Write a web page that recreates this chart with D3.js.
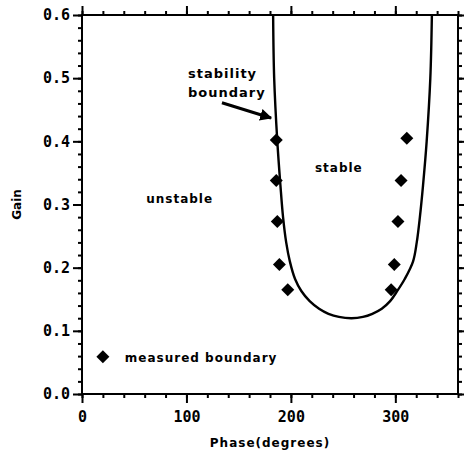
<!DOCTYPE html>
<html><head><meta charset="utf-8">
<script src="https://cdn.jsdelivr.net/npm/d3@7"></script>
<style>
html,body{margin:0;padding:0;background:#fff;}
svg{display:block;}
</style></head>
<body>
<svg id="chart" width="464" height="456"></svg>
<script>
// ---- data ----
const curvePhase = [183,184,187,190,192.5,195.5,199,204,210,218,227,236,246,258,269,278,287,295,301,309,317,320.5,323.5,326.5,330,333.5,335];
const curveGain  = [0.60,0.50,0.40,0.33,0.28,0.24,0.21,0.182,0.163,0.147,0.135,0.127,0.122,0.12,0.122,0.127,0.135,0.147,0.161,0.182,0.21,0.24,0.28,0.33,0.40,0.50,0.60];
const measPhase = [186,186,187,189,197, 311,305.5,302.5,299,296];
const measGain  = [0.402,0.338,0.273,0.205,0.165, 0.405,0.338,0.273,0.205,0.165];
const xTicks = [0,100,200,300];
const yTicks = [0,0.1,0.2,0.3,0.4,0.5,0.6];
const xLabel = "Phase(degrees)";
const yLabel = "Gain";
const legendLabel = "measured boundary";

const svg = d3.select("#chart");
const x = d3.scaleLinear().domain([0,360]).range([82,458]);
const y = d3.scaleLinear().domain([0,0.6]).range([394,15]);

const xMinor = d3.range(0,361,20);
const yMinor = d3.range(0,0.601,0.02);

const tickFont = "'DejaVu Sans Mono', monospace";
const textFont = "'DejaVu Sans', sans-serif";

function styleAxis(g){
  g.selectAll("path.domain").remove();
  g.selectAll("line").attr("stroke","#000").attr("stroke-width",2);
}

// minor ticks
svg.append("g").attr("transform",`translate(0,${y(0)})`)
  .call(d3.axisBottom(x).tickValues(xMinor).tickSize(4).tickFormat("")).call(styleAxis);
svg.append("g").attr("transform",`translate(0,${y(0.6)})`)
  .call(d3.axisTop(x).tickValues(xMinor).tickSize(4).tickFormat("")).call(styleAxis);
svg.append("g").attr("transform",`translate(${x(0)},0)`)
  .call(d3.axisLeft(y).tickValues(yMinor).tickSize(4).tickFormat("")).call(styleAxis);
svg.append("g").attr("transform",`translate(${x(360)},0)`)
  .call(d3.axisRight(y).tickValues(yMinor).tickSize(4).tickFormat("")).call(styleAxis);

// major ticks
const gx = svg.append("g").attr("transform",`translate(0,${y(0)})`)
  .call(d3.axisBottom(x).tickValues(xTicks).tickSize(9).tickPadding(8).tickFormat(d3.format("d")));
styleAxis(gx);
gx.selectAll("text").attr("font-family",tickFont).attr("font-weight","bold")
  .attr("font-size",15).attr("fill","#000");
svg.append("g").attr("transform",`translate(0,${y(0.6)})`)
  .call(d3.axisTop(x).tickValues(xTicks).tickSize(9).tickFormat("")).call(styleAxis);
const gy = svg.append("g").attr("transform",`translate(${x(0)},0)`)
  .call(d3.axisLeft(y).tickValues(yTicks).tickSize(9).tickPadding(3).tickFormat(d3.format(".1f")));
styleAxis(gy);
gy.selectAll("text").attr("font-family",tickFont).attr("font-weight","bold")
  .attr("font-size",15).attr("fill","#000");
svg.append("g").attr("transform",`translate(${x(360)},0)`)
  .call(d3.axisRight(y).tickValues(yTicks).tickSize(6).tickFormat("")).call(styleAxis);

// frame
svg.append("rect").attr("x",x(0)).attr("y",y(0.6))
  .attr("width",x(360)-x(0)).attr("height",y(0)-y(0.6))
  .attr("fill","none").attr("stroke","#000").attr("stroke-width",2);

// axis titles
svg.append("text").attr("x",(x(0)+x(360))/2).attr("y",447).attr("text-anchor","middle")
  .attr("font-family",textFont).attr("font-weight","bold").attr("font-size",12)
  .attr("letter-spacing",1).text(xLabel);
svg.append("text").attr("transform",`translate(21,${(y(0)+y(0.6))/2}) rotate(-90)`)
  .attr("text-anchor","middle").attr("font-family",textFont).attr("font-weight","bold")
  .attr("font-size",12).text(yLabel);

// stability boundary curve
const curveData = curvePhase.map((p,i)=>[p,curveGain[i]]);
svg.append("path").datum(curveData)
  .attr("d",d3.line().x(d=>x(d[0])).y(d=>y(d[1])).curve(d3.curveCatmullRom.alpha(0.5)))
  .attr("fill","none").attr("stroke","#000").attr("stroke-width",2.4);

// measured points
const diamond = d3.symbol().type(d3.symbolSquare).size(84);
svg.append("g").selectAll("path").data(measPhase.map((p,i)=>[p,measGain[i]]))
  .join("path").attr("d",diamond)
  .attr("transform",d=>`translate(${x(d[0])},${y(d[1])}) rotate(45)`)
  .attr("fill","#000");

// annotations
function label(px,gy,txt,size){
  svg.append("text").attr("x",x(px)).attr("y",y(gy))
    .attr("font-family",textFont).attr("font-weight","bold").attr("font-size",size||12)
    .attr("letter-spacing",1).text(txt);
}
label(101.5,0.50,"stability",13);
label(101.5,0.47,"boundary",13);
label(223,0.351,"stable");
label(61.5,0.302,"unstable");

// arrow
const defs = svg.append("defs");
defs.append("marker").attr("id","ah").attr("viewBox","0 0 10 10").attr("refX",9).attr("refY",5)
  .attr("markerWidth",4).attr("markerHeight",4).attr("orient","auto")
  .append("path").attr("d","M0,0 L10,5 L0,10 z").attr("fill","#000");
svg.append("line").attr("x1",x(134)).attr("y1",y(0.461)).attr("x2",x(181)).attr("y2",y(0.437))
  .attr("stroke","#000").attr("stroke-width",3).attr("marker-end","url(#ah)");

// legend
svg.append("path").attr("d",diamond)
  .attr("transform",`translate(${x(20)},${y(0.059)}) rotate(45)`).attr("fill","#000");
label(41,0.051,legendLabel);
</script>
</body></html>
